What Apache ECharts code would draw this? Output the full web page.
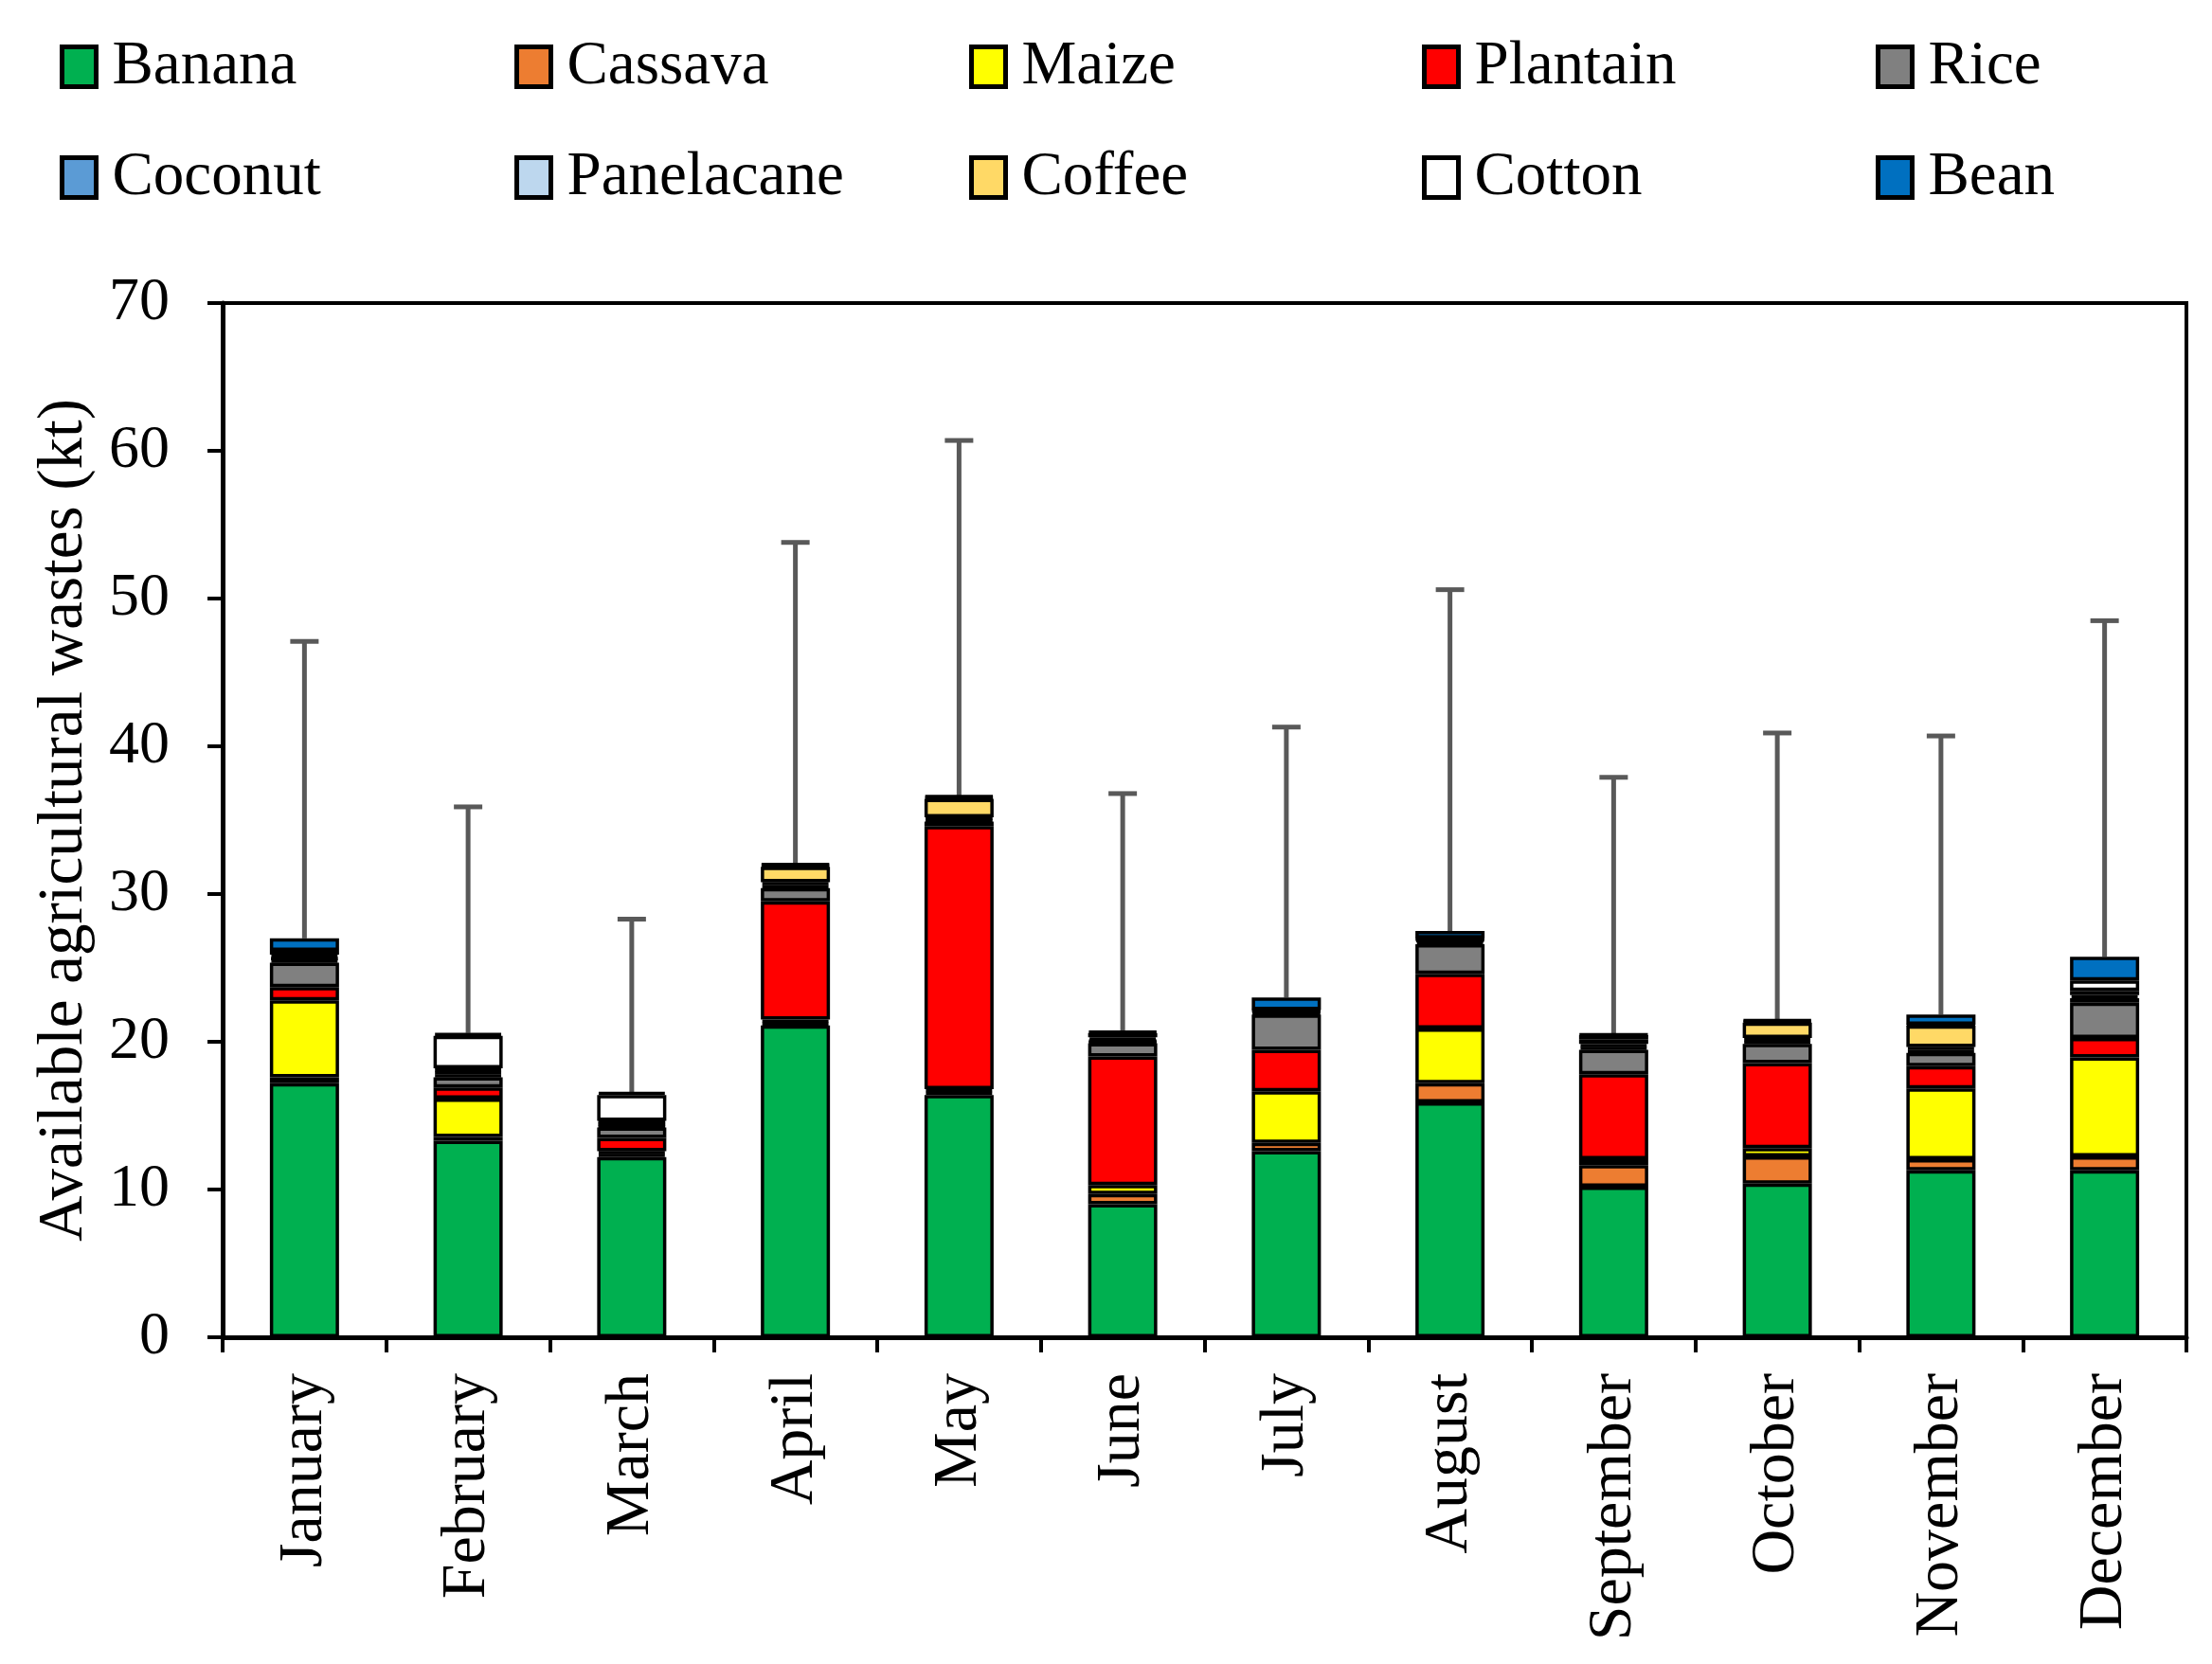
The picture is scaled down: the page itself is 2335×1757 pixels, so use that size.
<!DOCTYPE html>
<html>
<head>
<meta charset="utf-8">
<script src="https://cdn.jsdelivr.net/npm/echarts@6/dist/echarts.min.js"></script>
<style>
  html, body { margin: 0; padding: 0; background: #fff; }
  #chart { width: 2335px; height: 1757px; }
</style>
</head>
<body>
<div id="chart"></div>
<script>
var months = ['January', 'February', 'March', 'April', 'May', 'June', 'July', 'August', 'September', 'October', 'November', 'December'];

var banana     = [17.2, 13.3, 12.2, 21.1, 16.4,  9.0, 12.6, 15.9, 10.2, 10.4, 11.3, 11.3];
var cassava    = [0.4,  0.25, 0.2,  0.2,  0.2,  0.7,  0.55, 1.3,  1.45, 1.85, 0.75, 0.95];
var maize      = [5.2,  2.6,  0.2,  0.2,  0.2,  0.6,  3.5,  3.7,  0.4,  0.55, 4.8,  6.7];
var plantain   = [0.9,  0.75, 0.9,  8.0,  17.8, 8.7,  2.8,  3.7,  5.75, 5.75, 1.5,  1.3];
var rice       = [1.65, 0.7,  0.7,  0.9,  0.3,  0.9,  2.4,  2.0,  1.65, 1.3,  0.9,  2.4];
var coconut    = [0.2,  0.2,  0.15, 0.2,  0.15, 0.1,  0.1,  0.2,  0.2,  0.2,  0.2,  0.3];
var panelacane = [0.15, 0.2,  0.15, 0.2,  0.15, 0.1,  0.1,  0.1,  0.2,  0.2,  0.2,  0.2];
var coffee     = [0.2,  0.2,  0.15, 1.05, 1.25, 0.2,  0.05, 0.05, 0.3,  1.05, 1.45, 0.3];
var cotton     = [0.25, 2.2,  1.75, 0.1,  0.1,  0.3,  0.05, 0.05, 0.3,  0.1,  0.05, 0.7];
var bean       = [0.85, 0.2,  0.2,  0.1,  0.1,  0.1,  0.85, 0.5,  0.05, 0.1,  0.7,  1.6];

var errorTop   = [47.1, 35.9, 28.3, 53.8, 60.7, 36.8, 41.3, 50.6, 37.9, 40.9, 40.7, 48.5];

var cropNames  = ['Banana', 'Cassava', 'Maize', 'Plantain', 'Rice', 'Coconut', 'Panelacane', 'Coffee', 'Cotton', 'Bean'];
var cropValues = [banana, cassava, maize, plantain, rice, coconut, panelacane, coffee, cotton, bean];
var cropColors = ['#00B050', '#ED7D31', '#FFFF00', '#FF0000', '#808080', '#5B9BD5', '#BDD7EE', '#FFD966', '#FFFFFF', '#0070C0'];

var FONT = 'Liberation Serif';

// bar totals, where the error bars start
var totals = months.map(function (m, i) {
    var s = 0;
    cropValues.forEach(function (arr) { s += arr[i]; });
    return s;
});

// echarts draws the border inside each segment, so 3.5 gives ~7px between segments
var series = cropNames.map(function (name, k) {
    return {
        name: name,
        type: 'bar',
        stack: 'total',
        barWidth: 73,
        z: 3,
        data: cropValues[k],
        itemStyle: { color: cropColors[k], borderColor: '#000', borderWidth: 3.5 },
        emphasis: { disabled: true }
    };
});

series.push({
    type: 'custom',
    name: 'error',
    z: 1,
    silent: true,
    data: months.map(function (m, i) { return [i, totals[i], errorTop[i]]; }),
    renderItem: function (params, api) {
        var lo = api.coord([api.value(0), api.value(1)]);
        var hi = api.coord([api.value(0), api.value(2)]);
        var cap = 15;
        var st = { stroke: '#595959', lineWidth: 5 };
        return {
            type: 'group',
            children: [
                { type: 'line', shape: { x1: lo[0], y1: lo[1], x2: hi[0], y2: hi[1] }, style: st },
                { type: 'line', shape: { x1: hi[0] - cap, y1: hi[1], x2: hi[0] + cap, y2: hi[1] }, style: st }
            ]
        };
    }
});

// legend: 5 columns of 2 rows
var legendCols = [63, 543, 1023, 1501, 1980];
var legends = legendCols.map(function (x, c) {
    return {
        orient: 'vertical',
        left: x,
        top: 38,
        padding: 0,
        itemGap: 52,
        itemWidth: 36,
        itemHeight: 42,
        selectedMode: false,
        icon: 'rect',
        itemStyle: { borderColor: '#000', borderWidth: 5 },
        textStyle: { fontFamily: FONT, fontSize: 65, color: '#000', lineHeight: 64, padding: [0, 0, 0, 12] },
        data: [cropNames[c], cropNames[c + 5]]
    };
});

var option = {
    animation: false,
    backgroundColor: '#fff',
    legend: legends,
    grid: {
        left: 235, right: 27, top: 320, bottom: 345,
        show: true, borderColor: '#000', borderWidth: 4, backgroundColor: 'transparent'
    },
    xAxis: {
        type: 'category',
        data: months,
        axisLine: { lineStyle: { color: '#000', width: 5 } },
        axisTick: { show: true, length: 16, interval: 0, lineStyle: { color: '#000', width: 4 } },
        axisLabel: { rotate: 90, interval: 0, margin: 38, fontFamily: FONT, fontSize: 66, color: '#000' },
        splitLine: { show: false }
    },
    yAxis: {
        type: 'value',
        min: 0, max: 70, interval: 10,
        name: 'Available agricultural wastes (kt)',
        nameLocation: 'middle',
        nameGap: 133,
        nameTextStyle: { fontFamily: FONT, fontSize: 67, color: '#000' },
        axisLine: { show: true, lineStyle: { color: '#000', width: 5 } },
        axisTick: { show: true, length: 16, lineStyle: { color: '#000', width: 4 } },
        axisLabel: { margin: 56, fontFamily: FONT, fontSize: 64, color: '#000' },
        splitLine: { show: false }
    },
    series: series
};

var myChart = echarts.init(document.getElementById('chart'));
myChart.setOption(option);
</script>
</body>
</html>
